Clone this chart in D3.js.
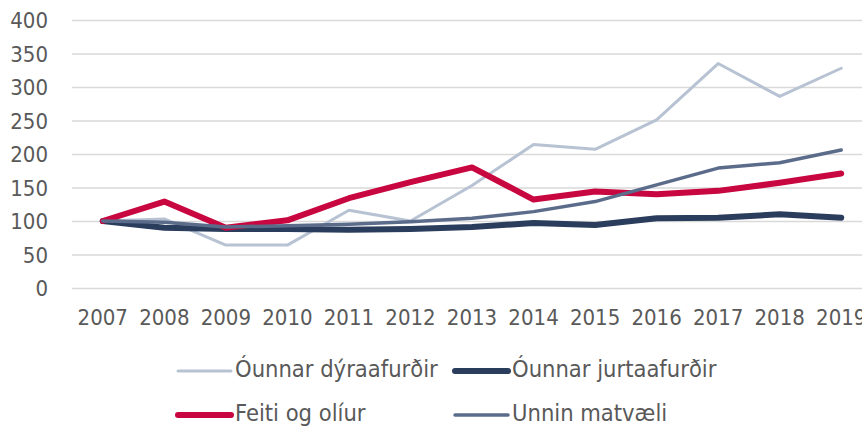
<!DOCTYPE html>
<html>
<head>
<meta charset="utf-8" />
<title>Vísitölur matvæla</title>
<style>
  body { margin: 0; background: #fff; }
  svg text { font-family: "DejaVu Sans Condensed", "DejaVu Sans", sans-serif; font-stretch: condensed; fill: #595959; }
</style>
</head>
<body>
<script src="https://d3js.org/d3.v7.min.js"></script>
<script>
var years = ["2007","2008","2009","2010","2011","2012","2013","2014","2015","2016","2017","2018","2019"];
var yTicks = [0, 50, 100, 150, 200, 250, 300, 350, 400];

var seriesNames = ["Óunnar dýraafurðir", "Óunnar jurtaafurðir", "Feiti og olíur", "Unnin matvæli"];
var dyraafurdir = [100, 103, 64, 64, 116, 100, 153, 214, 207, 251, 335, 286, 328];
var jurtaafurdir = [100, 90, 88, 88, 87, 88, 91, 97, 94, 104, 105, 110, 105];
var feiti = [100, 129, 90, 101, 134, 158, 180, 132, 144, 140, 145, 157, 171];
var unnin = [100, 98, 91, 93, 95, 99, 104, 114, 129, 154, 179, 187, 206];

var colors = ["#b7c2d3", "#2a3d5c", "#c8063f", "#5b6c8b"];
var widths = [3, 6, 6, 3.5];

var series = [dyraafurdir, jurtaafurdir, feiti, unnin];

var width = 862, height = 430;
var margin = {left: 72, right: -10, top: 20, bottom: 142};

var svg = d3.select("body").append("svg")
    .attr("width", width)
    .attr("height", height);

var x = d3.scaleBand()
    .domain(years)
    .range([margin.left, width - margin.right])
    .padding(0);

var y = d3.scaleLinear()
    .domain([0, 400])
    .range([height - margin.bottom, margin.top]);

// gridlines + y labels
var yAxis = svg.append("g")
    .attr("transform", "translate(" + margin.left + ",0)")
    .call(d3.axisLeft(y).tickValues(yTicks).tickSize(-(width - margin.right - margin.left)).tickPadding(24));
yAxis.select(".domain").remove();
yAxis.selectAll(".tick line").attr("stroke", "#d9d9d9").attr("stroke-width", 1.5);
yAxis.selectAll(".tick text").attr("font-size", 22).attr("dy", "0.36em");

// x labels
var xAxis = svg.append("g")
    .attr("transform", "translate(0," + (height - margin.bottom) + ")")
    .call(d3.axisBottom(x).tickSize(0).tickPadding(21));
xAxis.select(".domain").remove();
xAxis.selectAll(".tick text").attr("font-size", 22).attr("dy", "0.71em");

var line = d3.line()
    .x(function(d, i) { return x(years[i]) + x.bandwidth() / 2; })
    .y(function(d) { return y(d); });

svg.append("g").selectAll("path")
    .data(series)
    .enter().append("path")
    .attr("d", line)
    .attr("fill", "none")
    .attr("stroke", function(d, i) { return colors[i]; })
    .attr("stroke-width", function(d, i) { return widths[i]; })
    .attr("stroke-linejoin", "round")
    .attr("stroke-linecap", "round");

// legend, 2 x 2
var legX = [178, 455], legY = [371, 415];
var legend = svg.append("g").selectAll("g")
    .data(seriesNames)
    .enter().append("g")
    .attr("transform", function(d, i) { return "translate(" + legX[i % 2] + "," + legY[Math.floor(i / 2)] + ")"; });

legend.append("line")
    .attr("x1", 0).attr("x2", 53)
    .attr("stroke", function(d, i) { return colors[i]; })
    .attr("stroke-width", function(d, i) { return widths[i]; })
    .attr("stroke-linecap", "round");

legend.append("text")
    .attr("x", 57)
    .attr("y", 6)
    .attr("font-size", 23.5)
    .text(function(d) { return d; });
</script>
</body>
</html>
